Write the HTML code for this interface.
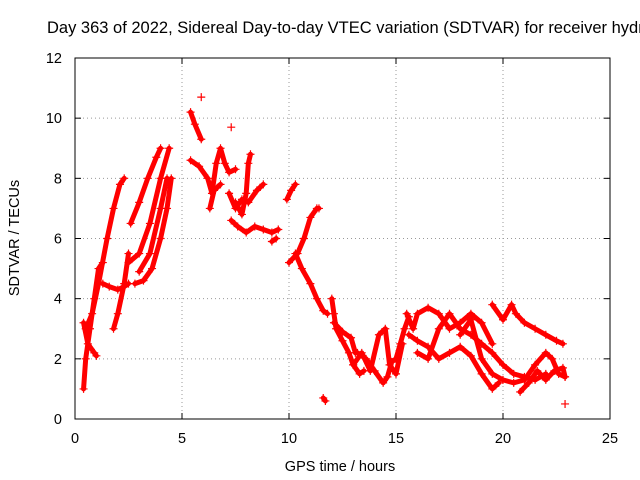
<!DOCTYPE html>
<html><head><meta charset="utf-8"><style>
body{margin:0;background:#fff}
svg{display:block;font-family:"Liberation Sans",sans-serif}
</style></head><body>
<svg id="chart" width="640" height="480" viewBox="0 0 640 480">
<text x="47" y="33" font-size="16.5" fill="#000">Day 363 of 2022, Sidereal Day-to-day VTEC variation (SDTVAR) for receiver hydn</text>
<g id="grid"></g>
<g id="ticks"></g>
<g id="marks"></g>
<rect x="75" y="58" width="535" height="361" fill="none" stroke="#000" stroke-width="1"/>
<text x="340" y="471" font-size="14.5" text-anchor="middle">GPS time / hours</text>
<text transform="translate(19,238) rotate(-90)" font-size="14.5" text-anchor="middle">SDTVAR / TECUs</text>
</svg>
<script>
const xTicks=[0,5,10,15,20,25];
const yTicks=[0,2,4,6,8,10,12];
const traces=[
[[0.4,1.0],[0.5,2],[0.7,3],[0.9,4],[1.1,5],[1.3,5.2]],
[[0.4,3.2],[0.6,2.5],[0.9,2.2],[1.0,2.1]],
[[0.5,3],[0.8,3.5],[1.1,4.5],[1.5,6],[1.8,7],[2.1,7.8],[2.3,8]],
[[1.3,4.5],[1.6,4.4],[2.0,4.3],[2.3,4.4],[2.5,4.5]],
[[1.8,3.0],[2.0,3.5],[2.3,4.5],[2.5,5.5]],
[[2.6,6.5],[3.0,7.2],[3.4,8],[3.8,8.7],[4.0,9]],
[[2.8,4.5],[3.2,4.6],[3.6,5],[4.0,6],[4.3,7],[4.5,8]],
[[2.5,5.2],[3.0,5.5],[3.5,6.5],[4.0,8],[4.4,9]],
[[3.0,4.9],[3.5,5.5],[4.0,7],[4.3,8]],
[[5.4,10.2],[5.6,9.8],[5.9,9.3]],
[[5.9,10.7]],
[[7.3,9.7]],
[[5.4,8.6],[5.8,8.4],[6.2,8],[6.4,7.5],[6.6,8.5],[6.8,9],[7.0,8.5],[7.2,8.2],[7.5,8.3]],
[[6.3,7.0],[6.5,7.6],[6.8,7.8]],
[[7.2,7.5],[7.5,7],[7.8,7.3],[8.1,7.2],[8.5,7.6],[8.8,7.8]],
[[7.3,6.6],[7.6,6.4],[8.0,6.2],[8.4,6.4],[8.8,6.3],[9.2,6.2],[9.5,6.3]],
[[7.5,7.2],[7.8,6.8],[8.0,7.5],[8.1,8.5],[8.2,8.8]],
[[9.2,5.9],[9.4,6.0]],
[[9.9,7.3],[10.1,7.6],[10.3,7.8]],
[[10.0,5.2],[10.4,5.5],[10.7,6],[11,6.7],[11.3,7],[11.4,7]],
[[10.3,5.5],[10.6,5.0],[11,4.5],[11.3,4],[11.6,3.6],[11.8,3.5]],
[[11.6,0.7],[11.7,0.6]],
[[12,4],[12.1,3.5],[12.2,3],[12.5,2.6],[12.8,2.2],[13.0,1.8],[13.3,1.5],[13.5,1.6]],
[[12.1,3.2],[12.5,2.9],[12.9,2.7],[13.1,2.2]],
[[13.2,2.2],[13.6,2],[14,1.6],[14.4,1.2],[14.6,1.4],[14.8,1.9],[15,2],[15.2,2.5],[15.4,3],[15.6,3.4]],
[[13.0,1.8],[13.4,2.2],[13.8,1.6],[14.2,2.8],[14.5,3],[14.7,1.8],[15.0,1.5],[15.3,2.5]],
[[15.5,3.5],[15.8,3.0],[16.0,3.5],[16.5,3.7],[17,3.5],[17.5,3],[18,3.2],[18.5,3.5],[19,3.2],[19.5,2.5]],
[[15.6,2.8],[16.0,2.6],[16.5,2.4],[17.0,2.0],[17.5,2.2],[18,2.4],[18.5,2.1],[19,1.5],[19.5,1.0],[19.8,1.2]],
[[16,2.2],[16.5,2.0],[17,3],[17.5,3.5],[18,3],[18.5,2.8],[19,2.5],[19.5,2.2],[20,1.8],[20.5,1.5],[21,1.4],[21.5,1.3],[22,1.5]],
[[18,2.8],[18.5,3.3],[19,2],[19.5,1.5],[20,1.3],[20.5,1.2],[21,1.3],[21.5,1.8],[22,2.2],[22.3,2.0],[22.6,1.5],[22.9,1.4]],
[[19.5,3.8],[20,3.3],[20.4,3.8],[20.6,3.5],[21,3.2],[21.5,3.0],[22,2.8],[22.5,2.6],[22.8,2.5]],
[[20.8,0.9],[21.2,1.2],[21.6,1.6],[22,1.3],[22.4,1.6],[22.8,1.7],[22.9,1.4]],
[[22.9,0.5]]
];
const NS="http://www.w3.org/2000/svg";
const X0=75,X1=610,Y0=419,Y1=58;
function sx(v){return X0+(v-0)/(25-0)*(X1-X0);}
function sy(v){return Y0-(v-0)/(12-0)*(Y0-Y1);}
const grid=document.getElementById('grid'),ticks=document.getElementById('ticks'),marks=document.getElementById('marks');
function mk(t,a,p){const e=document.createElementNS(NS,t);for(const k in a)e.setAttribute(k,a[k]);p.appendChild(e);return e;}
xTicks.forEach(v=>{
 const x=sx(v);
 if(v>0&&v<25){const g=mk('line',{x1:x,x2:x,y1:Y1,y2:Y0,stroke:'#999','stroke-dasharray':'1,3','stroke-width':1},grid);
 
 }
 mk('line',{x1:x,x2:x,y1:Y0,y2:Y0-6,stroke:'#000'},ticks);
 mk('line',{x1:x,x2:x,y1:Y1,y2:Y1+6,stroke:'#000'},ticks);
 const t=mk('text',{x:x,y:443,'font-size':14.5,'text-anchor':'middle'},ticks);
 t.textContent=v;
 
 
});
yTicks.forEach(v=>{
 const y=sy(v);
 if(v>0&&v<12){const g=mk('line',{x1:X0,x2:X1,y1:y,y2:y,stroke:'#999','stroke-dasharray':'1,3','stroke-width':1},grid);
 
 }
 mk('line',{x1:X0,x2:X0+6,y1:y,y2:y,stroke:'#000'},ticks);
 mk('line',{x1:X1,x2:X1-6,y1:y,y2:y,stroke:'#000'},ticks);
 const t=mk('text',{x:62,y:y+5,'font-size':14.5,'text-anchor':'end'},ticks);
 t.textContent=v;
 
 
});
traces.forEach(tr=>{
 if(tr.length>1){
  const pl=mk('polyline',{points:tr.map(p=>sx(p[0])+','+sy(p[1])).join(' '),fill:'none',stroke:'#f00','stroke-width':5,'stroke-linejoin':'round','stroke-linecap':'round'},marks);
  
  
 }
 tr.forEach(p=>{
  const x=sx(p[0]),y=sy(p[1]);
  const m=mk('path',{d:`M${x-4},${y}H${x+4}M${x},${y-4}V${y+4}`,stroke:'#f00','stroke-width':1.2},marks);
  
  
 });
});
</script>
</body></html>
